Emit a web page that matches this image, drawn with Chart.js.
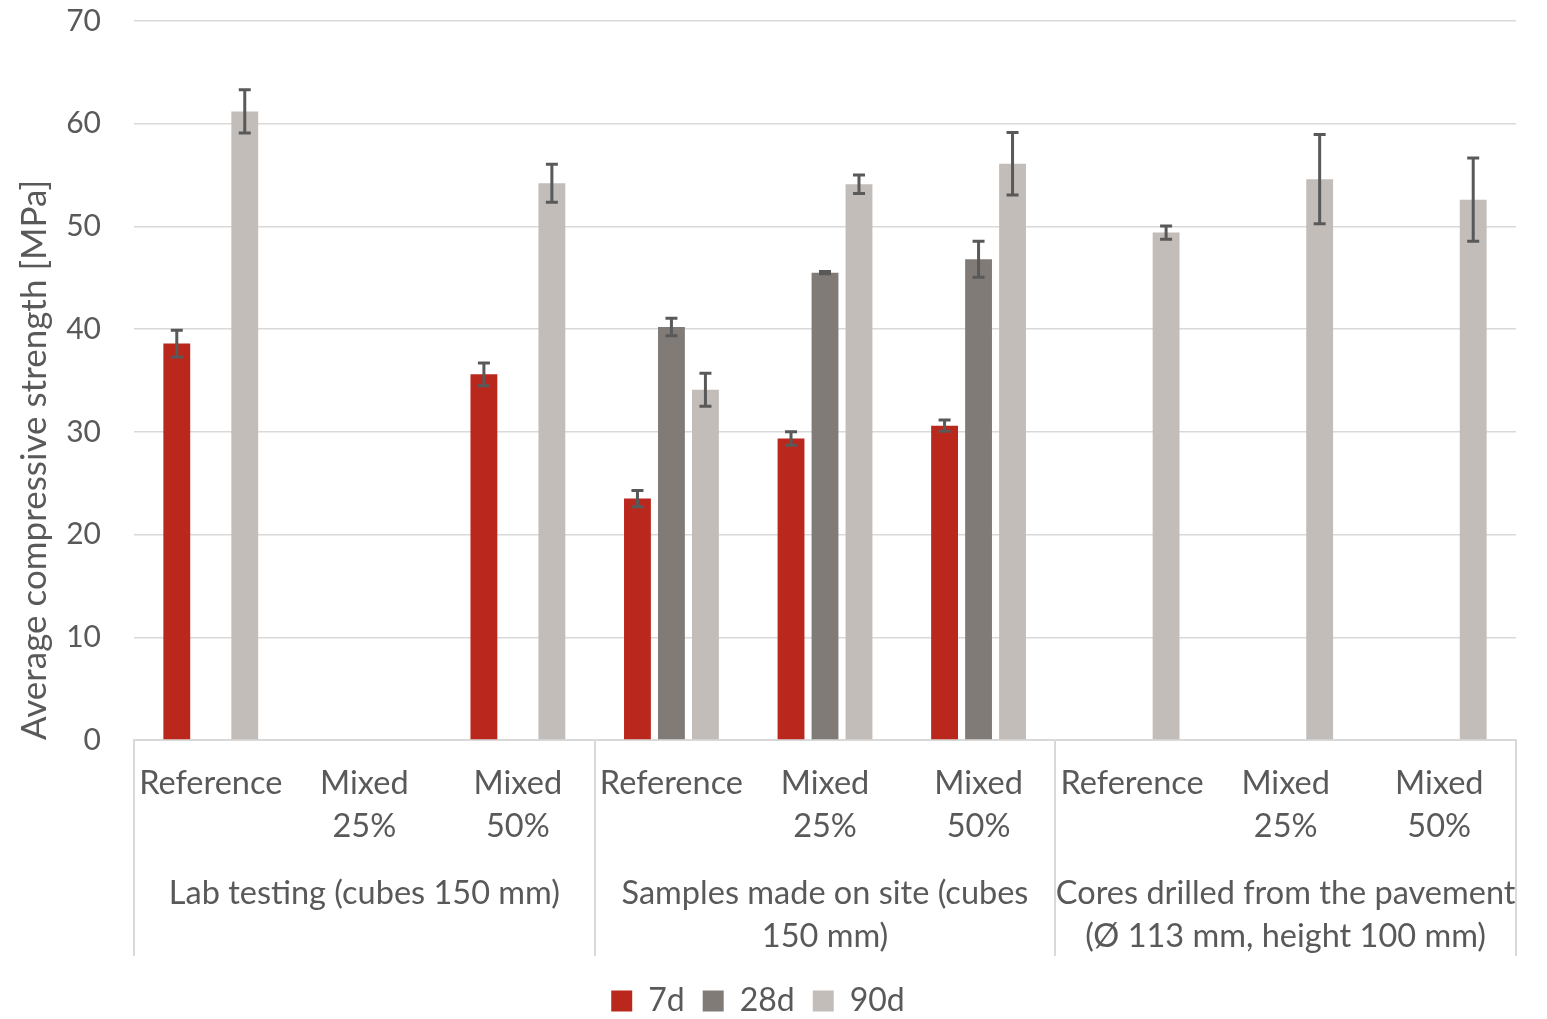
<!DOCTYPE html>
<html>
<head>
<meta charset="utf-8">
<script src="https://cdn.jsdelivr.net/npm/chart.js@4/dist/chart.umd.min.js"></script>
<style>
  html, body { margin: 0; padding: 0; background: #ffffff; }
  #wrap { width: 1547px; height: 1019px; }
</style>
</head>
<body>
<div id="wrap"><canvas id="chart"></canvas></div>
<script>
// Mix variants within each sampling method
const categoryLabels = [
  ['Reference'], ['Mixed', '25%'], ['Mixed', '50%'],
  ['Reference'], ['Mixed', '25%'], ['Mixed', '50%'],
  ['Reference'], ['Mixed', '25%'], ['Mixed', '50%']
];

// Sampling methods, three mix variants each
const groupLabels = [
  ['Lab testing (cubes 150 mm)'],
  ['Samples made on site (cubes', '150 mm)'],
  ['Cores drilled from the pavement', '(Ø 113 mm, height 100 mm)']
];

const seriesNames = ['7d', '28d', '90d'];

// Average compressive strength [MPa]
const strength7d  = [38.6, null, 35.6, 23.5, 29.35, 30.6, null, null, null];
const strength28d = [null, null, null, 40.2, 45.5, 46.8, null, null, null];
const strength90d = [61.2, null, 54.2, 34.1, 54.1, 56.1, 49.4, 54.6, 52.6];

// Standard deviation (± error bar)
const error7d  = [1.3, null, 1.1, 0.8, 0.65, 0.55, null, null, null];
const error28d = [null, null, null, 0.85, 0.1, 1.75, null, null, null];
const error90d = [2.1, null, 1.85, 1.6, 0.9, 3.05, 0.65, 4.35, 4.05];

const yTicks = [0, 10, 20, 30, 40, 50, 60, 70];

const FONT = 'Lato, "Open Sans", sans-serif';
const TEXT = '#595959';
const GRID = '#d9d9d9';

// Symmetric error bars with caps, placed on each bar through the scales
const errorBarPlugin = {
  id: 'errorBars',
  afterDatasetsDraw(chart) {
    const ctx = chart.ctx;
    const y = chart.scales.y;
    ctx.save();
    ctx.strokeStyle = '#595959';
    ctx.lineWidth = 3;
    chart.data.datasets.forEach((ds, di) => {
      const meta = chart.getDatasetMeta(di);
      meta.data.forEach((bar, i) => {
        const v = ds.data[i];
        const e = ds.errors[i];
        if (v == null || e == null) return;
        const top = y.getPixelForValue(v + e);
        const bot = y.getPixelForValue(v - e);
        const x = bar.x;
        const cap = 6;
        ctx.beginPath();
        ctx.moveTo(x, top); ctx.lineTo(x, bot);
        ctx.moveTo(x - cap, top); ctx.lineTo(x + cap, top);
        ctx.moveTo(x - cap, bot); ctx.lineTo(x + cap, bot);
        ctx.stroke();
      });
    });
    ctx.restore();
  }
};

// Vertical dividers between the sampling-method groups under the axis
const DIVIDER_DEPTH = 216;
const groupDividerPlugin = {
  id: 'groupDividers',
  afterDraw(chart) {
    const ctx = chart.ctx;
    const x = chart.scales.x;
    const n = categoryLabels.length;
    const per = n / groupLabels.length;
    const step = (x.right - x.left) / n;
    ctx.save();
    ctx.strokeStyle = GRID;
    ctx.lineWidth = 2;
    for (let i = 0; i <= n; i += per) {
      const px = Math.round(x.left + i * step);
      ctx.beginPath();
      ctx.moveTo(px, x.top);
      ctx.lineTo(px, x.top + DIVIDER_DEPTH);
      ctx.stroke();
    }
    ctx.restore();
  }
};

const mk = (label, data, errors, color) => ({
  label, data, errors,
  backgroundColor: color,
  borderWidth: 0,
  categoryPercentage: 0.664,
  barPercentage: 0.79,
  xAxisID: 'x'
});

const tickFont = { family: FONT, size: 32.5, lineHeight: 1.32 };

new Chart(document.getElementById('chart'), {
  type: 'bar',
  data: {
    labels: categoryLabels,
    datasets: [
      mk(seriesNames[0], strength7d, error7d, '#b9271d'),
      mk(seriesNames[1], strength28d, error28d, '#807b77'),
      mk(seriesNames[2], strength90d, error90d, '#c2bdb9')
    ]
  },
  options: {
    responsive: true,
    maintainAspectRatio: false,
    animation: false,
    layout: { padding: { top: 21, right: 31, bottom: -8, left: 0 } },
    plugins: {
      legend: {
        position: 'bottom',
        labels: {
          boxWidth: 21, boxHeight: 21, padding: 18,
          color: TEXT,
          font: { family: FONT, size: 32 }
        }
      },
      tooltip: { enabled: false }
    },
    scales: {
      x: {
        type: 'category',
        position: 'bottom',
        grid: { display: false, drawTicks: false },
        border: { display: true, color: GRID, width: 2 },
        ticks: {
          color: TEXT, padding: 22, maxRotation: 0, autoSkip: false,
          font: tickFont
        },
        afterFit(s) { s.height = 110; }
      },
      x2: {
        type: 'category',
        position: 'bottom',
        labels: groupLabels,
        offset: true,
        grid: { display: false, drawTicks: false },
        border: { display: false },
        ticks: {
          color: TEXT, padding: 22, maxRotation: 0, autoSkip: false,
          font: tickFont
        },
        afterFit(s) { s.height = 117; }
      },
      y: {
        min: 0, max: 70,
        afterBuildTicks(s) { s.ticks = yTicks.map(v => ({ value: v })); },
        grid: { color: GRID, lineWidth: 1.5, drawTicks: false },
        border: { display: false },
        ticks: {
          color: TEXT, padding: 33,
          font: { family: FONT, size: 30 }
        },
        title: {
          display: true,
          text: 'Average compressive strength [MPa]',
          align: 'start',
          color: TEXT,
          font: { family: FONT, size: 35 },
          padding: { top: 14, bottom: 0 }
        },
        afterFit(s) { s.width = 134; s.paddingTop = 0; s.paddingBottom = 0; }
      }
    }
  },
  plugins: [errorBarPlugin, groupDividerPlugin]
});
</script>
</body>
</html>
